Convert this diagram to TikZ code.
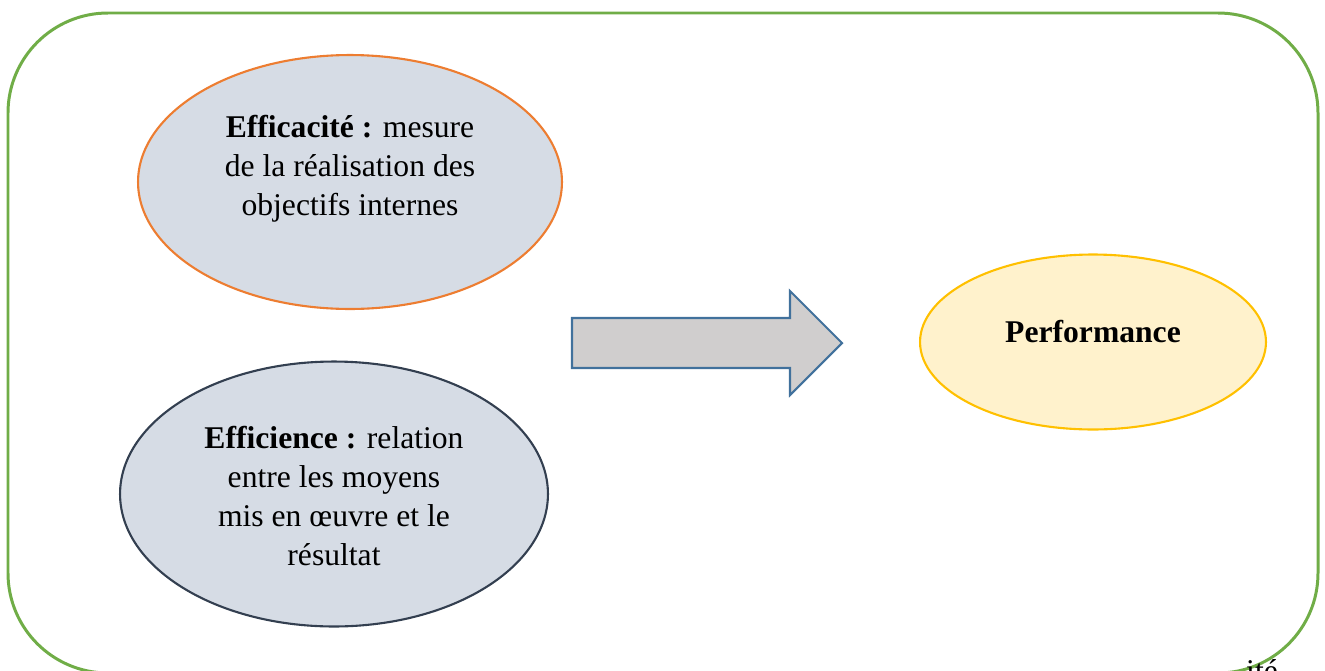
\documentclass[tikz,border=0pt]{standalone}
\usepackage{fontspec}
\setmainfont{Liberation Serif}
\usetikzlibrary{shapes.geometric}
\definecolor{framegreen}{HTML}{70AD47}
\definecolor{ellfill}{HTML}{D6DCE5}
\definecolor{orangeb}{HTML}{ED7D31}
\definecolor{darkb}{HTML}{333F50}
\definecolor{perffill}{HTML}{FFF2CC}
\definecolor{perfb}{HTML}{FFC000}
\definecolor{arrfill}{HTML}{D0CECE}
\definecolor{arrb}{HTML}{41719C}
\tikzset{
  ell/.style={ellipse, draw, line width=1.2pt, inner sep=0pt},
  txt/.style={align=center, font=\fontsize{18}{22.2}\selectfont, inner sep=0pt}
}
\begin{document}
\begin{tikzpicture}[x=0.02cm,y=-0.02cm]
\useasboundingbox (0,0) rectangle (1325,670);
% frame
\draw[framegreen, line width=1.7pt, rounded corners=2cm] (8,13) rectangle (1318,673);
% ellipses
\node[ell, draw=orangeb, fill=ellfill, minimum width=8.48cm, minimum height=5.08cm] (eff) at (350,182) {};
\node[txt] (efftxt) at (350,169) {\textbf{Efficacité :} mesure\\de la réalisation des\\objectifs internes};
\node[ell, draw=darkb, fill=ellfill, minimum width=8.56cm, minimum height=5.3cm] (effi) at (334,494) {};
\node[txt] (effitxt) at (334,496) {\textbf{Efficience :} relation\\entre les moyens\\mis en œuvre et le\\résultat};
\node[ell, draw=perfb, fill=perffill, minimum width=6.92cm, minimum height=3.5cm] (perf) at (1093,342) {};
\node[txt, font=\fontsize{18}{22}\selectfont\bfseries] (perftxt) at (1093,332) {Performance};
% arrow
\draw[arrb, fill=arrfill, line width=1.2pt, line join=miter]
  (572,318) -- (790,318) -- (790,291) -- (842,343) -- (790,395) -- (790,368) -- (572,368) -- cycle;
% cut text
\node[txt, anchor=base] (cut) at (1262,681) {ité};
\end{tikzpicture}
\end{document}
